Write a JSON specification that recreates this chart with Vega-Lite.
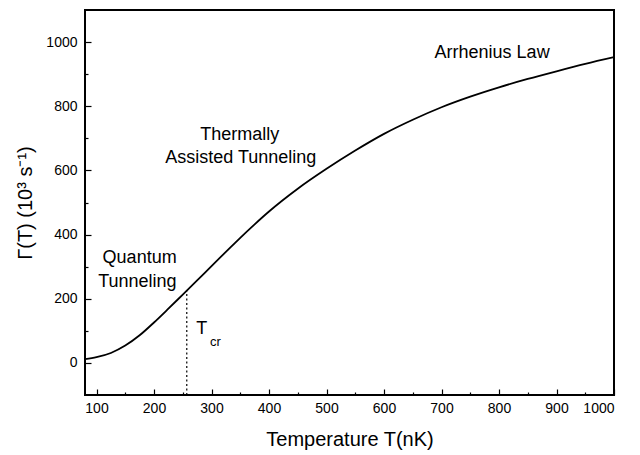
{
  "$schema": "https://vega.github.io/schema/vega-lite/v6.json",
  "width": 529,
  "height": 385,
  "autosize": {"type": "none"},
  "padding": {"left": 85, "top": 10, "right": 26, "bottom": 60},
  "background": "white",
  "datasets": {
    "curve": [
      {"T": 80, "G": 12}, {"T": 100, "G": 18}, {"T": 125, "G": 31},
      {"T": 150, "G": 54}, {"T": 175, "G": 86}, {"T": 200, "G": 126},
      {"T": 225, "G": 169}, {"T": 250, "G": 213}, {"T": 275, "G": 257},
      {"T": 300, "G": 302}, {"T": 325, "G": 346}, {"T": 350, "G": 390},
      {"T": 375, "G": 432}, {"T": 400, "G": 472}, {"T": 450, "G": 543},
      {"T": 500, "G": 605}, {"T": 550, "G": 662}, {"T": 600, "G": 714},
      {"T": 650, "G": 758}, {"T": 700, "G": 797}, {"T": 750, "G": 830},
      {"T": 800, "G": 859}, {"T": 850, "G": 885}, {"T": 900, "G": 909},
      {"T": 950, "G": 932}, {"T": 1000, "G": 953}
    ],
    "tcr": [{"T": 257, "G0": -100, "G1": 225}],
    "notes": [
      {"T": 175, "G": 326, "label": "Quantum"},
      {"T": 171, "G": 252, "label": "Tunneling"},
      {"T": 349, "G": 711, "label": "Thermally"},
      {"T": 351, "G": 640, "label": "Assisted Tunneling"},
      {"T": 788, "G": 966, "label": "Arrhenius Law"},
      {"T": 283, "G": 106, "label": "T"}
    ],
    "subs": [{"T": 307, "G": 64, "label": "cr"}]
  },
  "layer": [
    {
      "data": {"name": "tcr"},
      "mark": {"type": "rule", "color": "black", "strokeWidth": 1.2, "strokeDash": [2, 2.5]},
      "encoding": {
        "x": {
          "field": "T",
          "type": "quantitative",
          "scale": {"domain": [80, 1000], "nice": false, "zero": false},
          "axis": {
            "orient": "bottom",
            "title": null,
            "labels": false,
            "domain": false,
            "values": [150, 250, 350, 450, 550, 650, 750, 850, 950],
            "offset": -3,
            "tickSize": 3
          }
        },
        "y": {
          "field": "G0",
          "type": "quantitative",
          "scale": {"domain": [-100, 1100], "nice": false, "zero": false},
          "axis": {
            "orient": "left",
            "title": null,
            "labels": false,
            "domain": false,
            "values": [100, 300, 500, 700, 900],
            "offset": -3,
            "tickSize": 3
          }
        },
        "y2": {"field": "G1"}
      }
    },
    {
      "data": {"name": "curve"},
      "mark": {"type": "line", "color": "black", "strokeWidth": 1.8, "interpolate": "monotone", "clip": true},
      "encoding": {
        "x": {
          "field": "T",
          "type": "quantitative",
          "scale": {"domain": [80, 1000], "nice": false, "zero": false},
          "axis": {
            "orient": "bottom",
            "title": "Temperature T(nK)",
            "values": [100, 200, 300, 400, 500, 600, 700, 800, 900, 1000],
            "format": "d",
            "domain": false,
            "offset": -6,
            "tickSize": 6,
            "labelPadding": 6,
            "titlePadding": 14
          }
        },
        "y": {
          "field": "G",
          "type": "quantitative",
          "scale": {"domain": [-100, 1100], "nice": false, "zero": false},
          "axis": {
            "orient": "left",
            "title": "Γ(T) (10³ s⁻¹)",
            "values": [0, 200, 400, 600, 800, 1000],
            "format": "d",
            "domain": false,
            "offset": -6,
            "tickSize": 6,
            "labelPadding": 8,
            "titlePadding": 10
          }
        }
      }
    },
    {
      "data": {"name": "notes"},
      "mark": {"type": "text", "font": "Liberation Sans", "fontSize": 18, "color": "black", "align": "center", "baseline": "middle"},
      "encoding": {
        "x": {"field": "T", "type": "quantitative", "axis": null},
        "y": {"field": "G", "type": "quantitative", "axis": null},
        "text": {"field": "label"}
      }
    },
    {
      "data": {"name": "subs"},
      "mark": {"type": "text", "font": "Liberation Sans", "fontSize": 13, "color": "black", "align": "center", "baseline": "middle"},
      "encoding": {
        "x": {"field": "T", "type": "quantitative", "axis": null},
        "y": {"field": "G", "type": "quantitative", "axis": null},
        "text": {"field": "label"}
      }
    }
  ],
  "resolve": {"axis": {"x": "independent", "y": "independent"}},
  "config": {
    "view": {"stroke": "black", "strokeWidth": 2},
    "axis": {
      "grid": false,
      "tickColor": "black",
      "tickWidth": 1.2,
      "labelFont": "Liberation Sans",
      "labelFontSize": 14,
      "labelColor": "black",
      "titleFont": "Liberation Sans",
      "titleFontSize": 20,
      "titleFontWeight": "normal",
      "titleColor": "black"
    }
  }
}
